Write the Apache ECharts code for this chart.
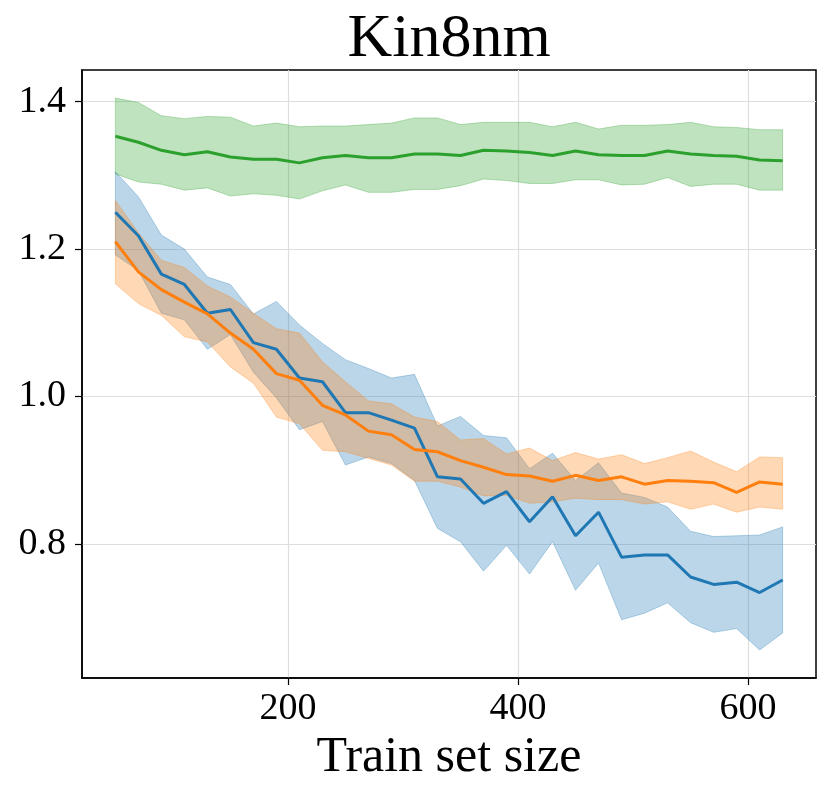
<!DOCTYPE html>
<html>
<head>
<meta charset="utf-8">
<script src="https://cdn.jsdelivr.net/npm/echarts@6/dist/echarts.min.js"></script>
<style>
  html, body { margin: 0; padding: 0; background: #fff; }
  #chart { width: 831px; height: 800px; }
</style>
</head>
<body>
<div id="chart"></div>
<script>
// x positions (train set size)
const trainSizes = [50, 70, 90, 110, 130, 150, 170, 190, 210, 230, 250, 270, 290, 310, 330,
                    350, 370, 390, 410, 430, 450, 470, 490, 510, 530, 550, 570, 590, 610, 630];

// blue
const blueMean  = [1.250, 1.218, 1.166, 1.152, 1.113, 1.118, 1.073, 1.064, 1.025, 1.020, 0.978, 0.978, 0.968, 0.957, 0.891,
                   0.888, 0.855, 0.871, 0.830, 0.864, 0.811, 0.843, 0.782, 0.785, 0.785, 0.755, 0.745, 0.748, 0.734, 0.751];
const blueUpper = [1.305, 1.271, 1.219, 1.200, 1.162, 1.152, 1.112, 1.129, 1.097, 1.072, 1.050, 1.038, 1.025, 1.030, 0.960,
                   0.973, 0.947, 0.944, 0.902, 0.923, 0.886, 0.910, 0.869, 0.863, 0.850, 0.817, 0.810, 0.811, 0.812, 0.823];
const blueLower = [1.192, 1.171, 1.113, 1.104, 1.064, 1.084, 1.033, 0.998, 0.955, 0.966, 0.907, 0.918, 0.909, 0.886, 0.821,
                   0.803, 0.763, 0.798, 0.759, 0.803, 0.737, 0.774, 0.697, 0.706, 0.720, 0.693, 0.680, 0.685, 0.656, 0.679];

// orange
const orangeMean  = [1.210, 1.169, 1.145, 1.128, 1.112, 1.086, 1.064, 1.031, 1.022, 0.988, 0.975, 0.953, 0.948, 0.928, 0.925,
                     0.913, 0.904, 0.894, 0.892, 0.885, 0.893, 0.886, 0.891, 0.881, 0.886, 0.885, 0.883, 0.870, 0.884, 0.881];
const orangeUpper = [1.266, 1.222, 1.185, 1.175, 1.150, 1.135, 1.113, 1.092, 1.086, 1.047, 1.020, 0.994, 0.990, 0.972, 0.966,
                     0.941, 0.943, 0.922, 0.930, 0.913, 0.924, 0.915, 0.921, 0.909, 0.917, 0.926, 0.911, 0.898, 0.918, 0.917];
const orangeLower = [1.153, 1.126, 1.110, 1.081, 1.074, 1.040, 1.018, 0.972, 0.963, 0.927, 0.925, 0.916, 0.907, 0.885, 0.885,
                     0.877, 0.865, 0.866, 0.855, 0.857, 0.862, 0.860, 0.860, 0.854, 0.857, 0.847, 0.854, 0.843, 0.850, 0.847];

// green
const greenMean  = [1.353, 1.345, 1.334, 1.328, 1.332, 1.325, 1.322, 1.322, 1.317, 1.324, 1.327, 1.324, 1.324, 1.329, 1.329,
                    1.327, 1.334, 1.333, 1.331, 1.327, 1.333, 1.328, 1.327, 1.327, 1.333, 1.329, 1.327, 1.326, 1.321, 1.320];
const greenUpper = [1.405, 1.399, 1.381, 1.377, 1.380, 1.379, 1.367, 1.371, 1.366, 1.367, 1.367, 1.369, 1.371, 1.378, 1.378,
                    1.369, 1.372, 1.372, 1.372, 1.366, 1.372, 1.363, 1.368, 1.368, 1.369, 1.372, 1.366, 1.365, 1.362, 1.362];
const greenLower = [1.302, 1.291, 1.288, 1.280, 1.283, 1.272, 1.275, 1.273, 1.268, 1.279, 1.287, 1.277, 1.277, 1.281, 1.281,
                    1.286, 1.295, 1.293, 1.289, 1.289, 1.294, 1.294, 1.287, 1.288, 1.297, 1.285, 1.288, 1.288, 1.280, 1.280];

// ticks
const xTicks = [200, 400, 600];
const yTicks = [0.8, 1.0, 1.2, 1.4];

const font = 'Liberation Serif';
const chart = echarts.init(document.getElementById('chart'), null, { renderer: 'canvas' });

function pairs(ys) {
  return trainSizes.map((x, i) => [x, ys[i]]);
}

// filled band between lower and upper, drawn as one polygon
function band(color, lower, upper, z) {
  return {
    type: 'custom',
    silent: true,
    z: z,
    data: trainSizes.map((x, i) => [x, lower[i], upper[i]]),
    encode: { x: 0, y: [1, 2] },
    renderItem: function (params, api) {
      if (params.dataIndexInside !== 0) return null;
      const top = trainSizes.map((x, i) => api.coord([x, upper[i]]));
      const bot = trainSizes.map((x, i) => api.coord([x, lower[i]]));
      const poly = top.concat(bot.slice().reverse());
      return {
        type: 'polygon',
        shape: { points: poly },
        style: { fill: color, opacity: 0.3, stroke: color, lineWidth: 1 }
      };
    }
  };
}

function meanLine(color, ys, z) {
  return { type: 'line', data: pairs(ys), symbol: 'none', silent: true,
           lineStyle: { color: color, width: 3 }, z: z };
}

chart.setOption({
  animation: false,
  backgroundColor: '#fff',
  title: {
    text: 'Kin8nm',
    left: 449,
    top: 9,
    padding: 0,
    textAlign: 'center',
    textStyle: { fontFamily: font, fontSize: 62, fontWeight: 'normal', color: '#000' }
  },
  grid: {
    left: 82, right: 15, top: 70, bottom: 122,
    show: true, borderColor: '#000', borderWidth: 1.5, backgroundColor: 'transparent'
  },
  xAxis: {
    type: 'value',
    min: 21, max: 659,
    name: 'Train set size',
    nameLocation: 'middle',
    nameGap: 52,
    nameTextStyle: { fontFamily: font, fontSize: 50, color: '#000' },
    axisLine: { lineStyle: { color: '#000', width: 1.5 } },
    axisTick: { show: true, length: 7, customValues: xTicks, lineStyle: { color: '#000', width: 1.2 } },
    axisLabel: { customValues: xTicks, margin: 12, fontFamily: font, fontSize: 38, color: '#000' },
    splitLine: { show: true, lineStyle: { color: '#dedede', width: 1.2 } }
  },
  yAxis: {
    type: 'value',
    min: 0.618, max: 1.443,
    axisLine: { show: true, lineStyle: { color: '#000', width: 1.5 } },
    axisTick: { show: true, length: 7, customValues: yTicks, lineStyle: { color: '#000', width: 1.2 } },
    axisLabel: { customValues: yTicks, margin: 16, fontFamily: font, fontSize: 38, color: '#000',
                 formatter: v => v.toFixed(1) },
    splitLine: { show: true, lineStyle: { color: '#dedede', width: 1.2 } }
  },
  series: [
    band('#1f77b4', blueLower, blueUpper, 2),
    band('#ff7f0e', orangeLower, orangeUpper, 2),
    band('#2ca02c', greenLower, greenUpper, 2),
    meanLine('#1f77b4', blueMean, 3),
    meanLine('#ff7f0e', orangeMean, 4),
    meanLine('#2ca02c', greenMean, 5)
  ]
});
</script>
</body>
</html>
